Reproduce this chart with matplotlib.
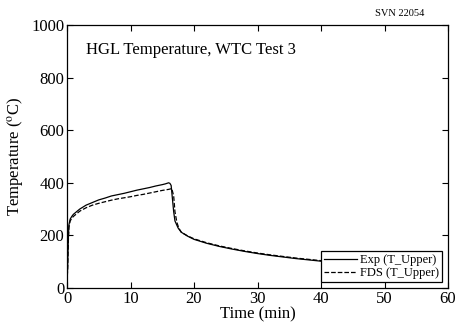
import matplotlib
matplotlib.use("Agg")
import matplotlib.pyplot as plt

plt.rcParams['font.family'] = ['Liberation Serif', 'DejaVu Serif']
plt.rcParams['mathtext.fontset'] = 'stix'

# Experimental upper layer temperature
exp_time = [0, 0.1, 0.2, 0.3, 0.5, 0.75, 1, 1.5, 2, 3, 4, 5, 6, 7, 8, 9, 10, 11, 12, 13, 14, 15, 15.5, 16, 16.2,
            16.4, 16.6, 16.8, 17, 17.5, 18, 19, 20, 22, 24, 26, 28, 30, 32, 34, 36, 38, 40, 42, 44]
exp_temp = [20, 80, 180, 240, 262, 272, 280, 290, 300, 315, 325, 335, 342, 350, 355, 360, 366, 372, 377, 382, 388, 393, 396, 400, 398,
            390, 340, 290, 255, 228, 212, 197, 185, 170, 158, 148, 139, 131, 124, 118, 112, 107, 102, 98, 94]

# FDS upper layer temperature
fds_time = [0, 0.1, 0.2, 0.3, 0.5, 0.75, 1, 1.5, 2, 3, 4, 5, 6, 7, 8, 9, 10, 11, 12, 13, 14, 15, 16, 16.5,
            16.8, 17, 17.3, 17.6, 18, 19, 20, 22, 24, 26, 28, 30, 32, 34, 36, 38, 40, 42, 44]
fds_temp = [20, 70, 170, 230, 255, 265, 272, 282, 292, 305, 315, 322, 328, 334, 339, 343, 347, 352, 356, 361, 366, 371, 375, 378,
            350, 290, 250, 228, 212, 198, 187, 172, 160, 150, 141, 133, 126, 120, 114, 109, 104, 100, 96]

fig = plt.figure(figsize=(4.59, 3.28), dpi=100)
ax = fig.add_axes([67 / 459, 40 / 328, 381 / 459, 263 / 328])

ax.plot(exp_time, exp_temp, 'k-', lw=0.9, label='Exp (T_Upper)')
ax.plot(fds_time, fds_temp, 'k--', lw=0.9, label='FDS (T_Upper)')

ax.set_xlim(0, 60)
ax.set_ylim(0, 1000)
ax.set_xticks(range(0, 61, 10))
ax.set_yticks(range(0, 1001, 200))
ax.tick_params(direction='in', top=True, right=True, labelsize=12, length=4, pad=2)
ax.set_xlabel('Time (min)', fontsize=12, labelpad=0)
ax.set_ylabel('Temperature ($^{\\rm o}$C)', fontsize=12, labelpad=4)
for s in ax.spines.values():
    s.set_linewidth(0.9)

ax.text(3.0, 905, 'HGL Temperature, WTC Test 3', fontsize=12, va='center')
fig.text(424 / 459, 1 - 14 / 328, 'SVN 22054', fontsize=7.5, ha='right', va='center')

leg = ax.legend(loc='lower right', fontsize=9, fancybox=False, framealpha=1,
                edgecolor='black', borderpad=0.25, labelspacing=0.1,
                handlelength=2.6, handletextpad=0.3, borderaxespad=0.45)
leg.get_frame().set_linewidth(0.9)

fig.savefig('out.png', dpi=100)
